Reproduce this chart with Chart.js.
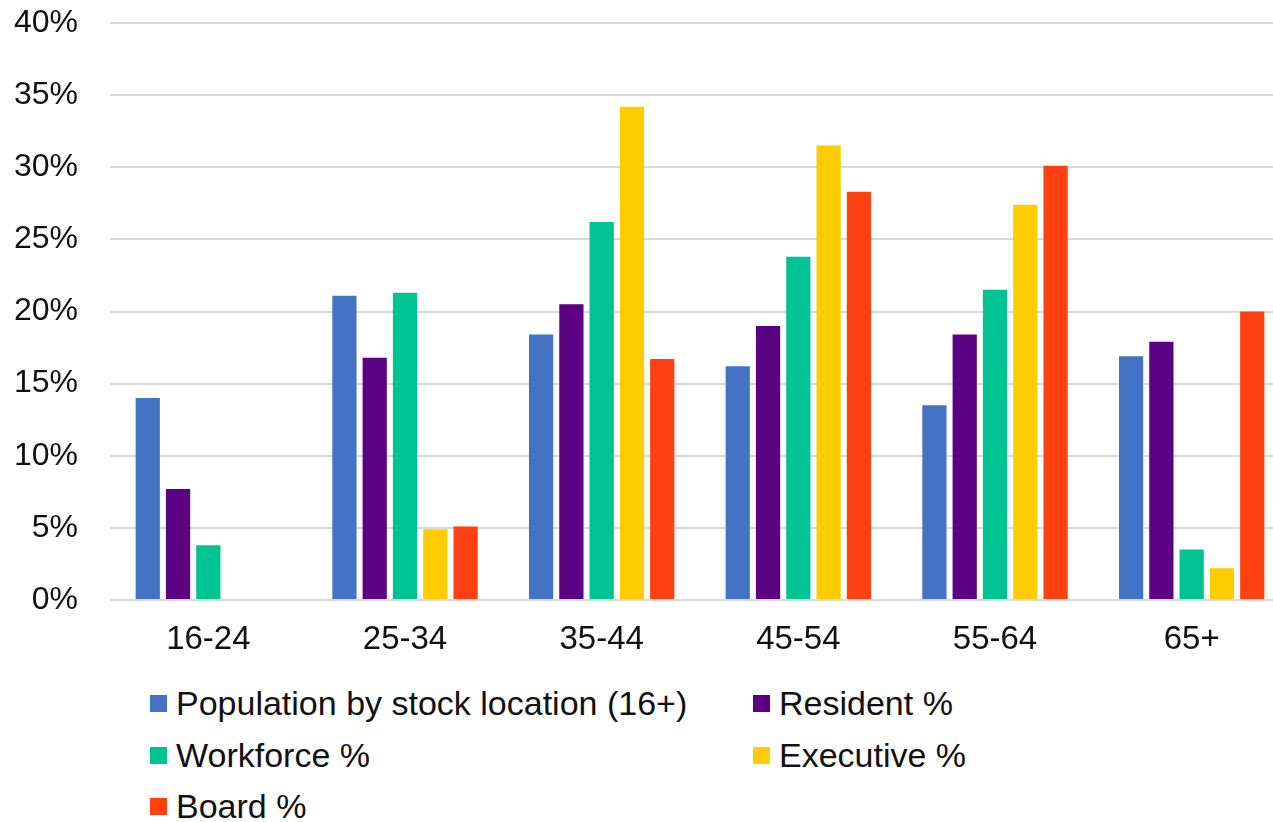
<!DOCTYPE html>
<html>
<head>
<meta charset="utf-8">
<script src="https://cdn.jsdelivr.net/npm/chart.js@4/dist/chart.umd.min.js"></script>
<style>
  html, body { margin: 0; padding: 0; background: #fff; overflow: hidden; }
  #wrap { position: relative; width: 1273px; height: 822px; overflow: hidden; }
  #barChart { position: absolute; left: 0; top: 0; }
  .legend-item {
    position: absolute; height: 40px; line-height: 40px;
    font-family: "Liberation Sans", Arial, sans-serif; font-size: 34px; color: #111;
    white-space: nowrap;
  }
  .legend-item span.box {
    position: absolute; left: 0; top: 12px; width: 17px; height: 17px;
  }
  .legend-item span.txt { position: absolute; left: 26px; top: 0; }
</style>
</head>
<body>
<div id="wrap">
  <canvas id="barChart" width="1290" height="660"></canvas>
  <div id="legend"></div>
</div>
<script>
  // 데이터
  const ageGroups = ["16-24", "25-34", "35-44", "45-54", "55-64", "65+"];
  const population = [14.0, 21.1, 18.4, 16.2, 13.5, 16.9];
  const resident = [7.7, 16.8, 20.5, 19.0, 18.4, 17.9];
  const workforce = [3.8, 21.3, 26.2, 23.8, 21.5, 3.5];
  const executive = [0, 4.9, 34.2, 31.5, 27.4, 2.2];
  const board = [0, 5.1, 16.7, 28.3, 30.1, 20.0];
  const yTicks = [0, 5, 10, 15, 20, 25, 30, 35, 40];

  const seriesNames = [
    "Population by stock location (16+)",
    "Resident %",
    "Workforce %",
    "Executive %",
    "Board %",
  ];
  const seriesColors = ["#4472C4", "#5B0082", "#00C394", "#FFCC00", "#FF4111"];
  const seriesData = [population, resident, workforce, executive, board];

  const fontFamily = '"Liberation Sans", Arial, sans-serif';

  const barData = {
    labels: ageGroups,
    datasets: seriesData.map((data, i) => {
      return {
        label: seriesNames[i],
        data: data,
        backgroundColor: seriesColors[i],
        borderWidth: 0,
        barPercentage: 0.8,
        categoryPercentage: 0.77,
      };
    }),
  };

  new Chart(document.querySelector("#barChart"), {
    type: "bar",
    data: barData,
    options: {
      responsive: false,
      animation: false,
      layout: { padding: { top: 23, left: 0, right: 0, bottom: 0 } },
      plugins: {
        legend: { display: false },
        title: { display: false },
        tooltip: { enabled: false },
      },
      scales: {
        x: {
          grid: { display: false, drawTicks: false },
          border: { display: false },
          ticks: {
            color: "#111",
            font: { family: fontFamily, size: 33 },
            padding: 20,
          },
          afterFit: (scale) => {
            scale.height = 60;
            scale.paddingLeft = 0;
            scale.paddingRight = 0;
          },
        },
        y: {
          min: yTicks[0],
          max: yTicks[yTicks.length - 1],
          grid: { color: "#d9d9d9", lineWidth: 2, drawTicks: false },
          border: { display: false },
          afterBuildTicks: (scale) => {
            scale.ticks = yTicks.map((v) => ({ value: v }));
          },
          ticks: {
            color: "#111",
            font: { family: fontFamily, size: 32 },
            padding: 32,
            callback: (v) => v + "%",
          },
          afterFit: (scale) => {
            scale.width = 110;
            scale.paddingTop = 0;
            scale.paddingBottom = 0;
          },
        },
      },
    },
  });

  // 범례 (2열)
  const legendPos = [
    [150, 683],
    [753, 683],
    [150, 735],
    [753, 735],
    [150, 786],
  ];
  const legendEl = document.querySelector("#legend");
  seriesNames.forEach((name, i) => {
    const item = document.createElement("div");
    item.className = "legend-item";
    item.style.left = legendPos[i][0] + "px";
    item.style.top = legendPos[i][1] + "px";
    item.innerHTML =
      '<span class="box" style="background:' + seriesColors[i] + '"></span>' +
      '<span class="txt"></span>';
    item.querySelector(".txt").textContent = name;
    legendEl.appendChild(item);
  });
</script>
</body>
</html>
